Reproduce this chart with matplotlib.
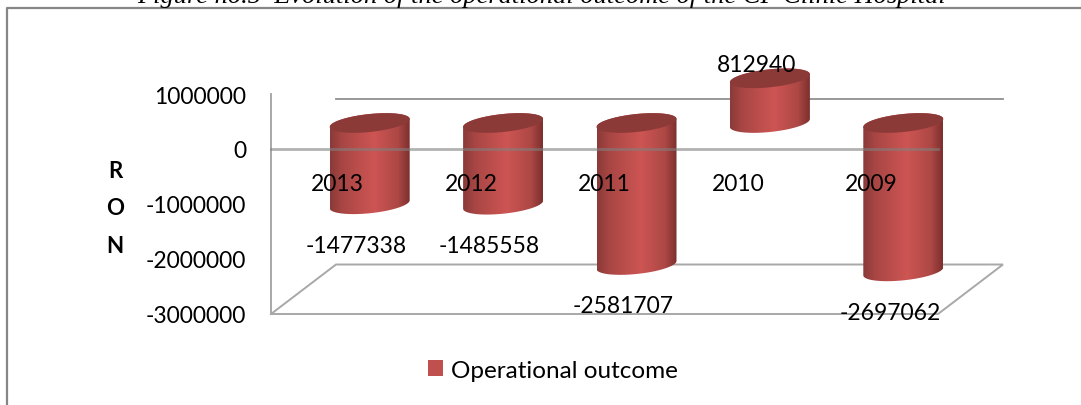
import numpy as np
import matplotlib
matplotlib.use('Agg')
import matplotlib.pyplot as plt
from matplotlib.colors import LinearSegmentedColormap
from matplotlib.lines import Line2D
from matplotlib.patches import Patch, PathPatch, Polygon
from matplotlib.path import Path
from matplotlib.ticker import ScalarFormatter

years = ['2013', '2012', '2011', '2010', '2009']
outcome = [-1477338, -1485558, -2581707, 812940, -2697062]
yticks = [1000000, 0, -1000000, -2000000, -3000000]
title = 'Figure no.5  Evolution of the operational outcome of the CF Clinic Hospital'
series_name = 'Operational outcome'

W, H = 1081, 406
plt.rcParams['font.family'] = ['Lato', 'DejaVu Sans']
plt.rcParams['axes.unicode_minus'] = False
fig = plt.figure(figsize=(W / 100, H / 100), dpi=100, facecolor='white')

# front plane of the fake 3d box, in pixels of the picture
left, right, top, bottom = 271, 938, 95, 315
ax = fig.add_axes([left / W, 1 - bottom / H, (right - left) / W, (bottom - top) / H])
ax.patch.set_alpha(0)
xlim = (-0.5, 4.5)
ylim = (-3000000, 1000000)
px_x = (right - left) / (xlim[1] - xlim[0])
px_y = (bottom - top) / (ylim[1] - ylim[0])


def dx(p):
    return p / px_x


def dy(p):
    return p / px_y


grid = '#a8a8a8'
depth_x, depth_y = 65, 49.5

# floor and back lines
floor_y = ylim[0]
back_l = xlim[0] + dx(depth_x)
back_r = xlim[1] + dx(depth_x)
back_floor = floor_y + dy(depth_y)
ax.plot([xlim[0], xlim[1], back_r, back_l, xlim[0]],
        [floor_y, floor_y, back_floor, back_floor, floor_y],
        color=grid, lw=1.4, clip_on=False, zorder=1, solid_joinstyle='miter')
ax.plot([back_l, back_r], [ylim[1] - dy(5)] * 2, color='#909090', lw=1.3, clip_on=False, zorder=1)

# cylinders
cyl_cmap = LinearSegmentedColormap.from_list('cyl', [
    (0.0, '#8a3a38'), (0.15, '#a84644'), (0.55, '#cd5553'), (0.85, '#ad4845'), (1.0, '#7c302e')])
grad = np.linspace(0, 1, 256).reshape(1, -1)
cyl_dx, cyl_dy = 32, 26
a, b, tilt = 40, 9, 4
t = np.linspace(0, 2 * np.pi, 80)
t_low = np.linspace(np.pi, 2 * np.pi, 40)

for i, v in enumerate(outcome):
    cx = i + dx(cyl_dx)
    y0 = dy(cyl_dy)
    y1 = v + dy(cyl_dy)
    y_top = max(y0, y1)
    y_bot = min(y0, y1)
    # body outline: top edge, then lower half of the base ellipse
    up = np.linspace(0, np.pi, 40)
    xs = np.r_[cx + dx(a * np.cos(up)), cx + dx(a * np.cos(t_low))]
    ys = np.r_[y_top + dy(b * np.sin(up) + tilt * np.cos(up)),
               y_bot + dy(b * np.sin(t_low) + tilt * np.cos(t_low))]
    body = Polygon(np.c_[xs, ys], closed=True, fc='none', ec='none', transform=ax.transData,
                   clip_on=False)
    ax.add_patch(body)
    im = ax.imshow(grad, cmap=cyl_cmap, aspect='auto', zorder=2,
                   extent=(cx - dx(a), cx + dx(a), y_bot - dy(12), y_top + dy(12)))
    im.set_clip_path(body)
    im.set_clip_box(fig.bbox)  # the 2010 cylinder sticks out over the top of the axes
    ell = np.c_[cx + dx(a * np.cos(t)), y_top + dy(b * np.sin(t) + tilt * np.cos(t))]
    ax.add_patch(PathPatch(Path(ell), fc='#8c3a38', ec='none', zorder=2.1, clip_on=False))
    ax.annotate(str(v), (cx, y1), xytext=(-13.5, -41 if v < 0 else 14), textcoords='offset pixels',
                ha='center', va='center', fontsize=16.5, color='black', zorder=5,
                annotation_clip=False)

ax.set_xlim(*xlim)
ax.set_ylim(*ylim)
ax.set_xticks(range(len(years)))
ax.set_xticklabels(years)
ax.set_yticks(yticks)
fmt = ScalarFormatter(useOffset=False)
fmt.set_scientific(False)
ax.yaxis.set_major_formatter(fmt)
ax.set_axisbelow(False)
ax.tick_params(axis='x', length=0, pad=17.5, labelsize=16.5)
ax.tick_params(axis='y', length=0, pad=18, labelsize=16.5)
for s in ['top', 'right']:
    ax.spines[s].set_visible(False)
ax.spines['bottom'].set_position(('data', 0))
ax.spines['bottom'].set_color((0.5, 0.5, 0.5, 0.6))
ax.spines['bottom'].set_linewidth(2)
ax.spines['left'].set_color(grid)
ax.spines['left'].set_linewidth(1.4)

fig.text(115 / W, 1 - 209 / H, 'R\nO\nN', ha='center', va='center', fontsize=16,
         fontweight='bold', linespacing=1.97)

leg = ax.legend(handles=[Patch(fc='#c0504d', ec='none', label=series_name)], loc='center',
                bbox_to_anchor=(553 / W, 1 - 371 / H), bbox_transform=fig.transFigure,
                frameon=False, fontsize=17.5, handlelength=0.62, handleheight=0.62, handletextpad=0.3)

# border of the surrounding box, cut off by the page on the right and bottom
fig.add_artist(Line2D([7 / W, 7 / W, 1], [0, 1 - 8.5 / H, 1 - 8.5 / H], color='#868686', lw=1.6))
fig.text(542 / W, 1 - 3 / H, title, ha='center', va='baseline', fontsize=19,
         family=['Liberation Serif', 'DejaVu Serif'], style='italic')

fig.savefig('out.png', dpi=100)
